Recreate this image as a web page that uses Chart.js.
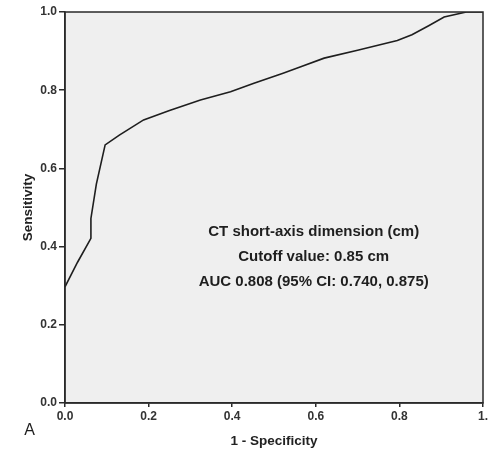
<!DOCTYPE html>
<html>
<head>
<meta charset="utf-8">
<script src="https://cdn.jsdelivr.net/npm/chart.js@4"></script>
<style>
  body { margin: 0; background: #fff; }
</style>
</head>
<body>
<canvas id="rocChart" width="491" height="455"></canvas>
<script>
// datos de la curva ROC (1 - especificidad, sensibilidad)
const fprValues = [0, 0.03, 0.062, 0.062, 0.075, 0.096, 0.13, 0.188, 0.25, 0.324, 0.396, 0.452, 0.52, 0.564, 0.62, 0.7, 0.795, 0.83, 0.87, 0.907, 0.96, 1.0];
const sensValues = [0.297, 0.36, 0.421, 0.472, 0.56, 0.66, 0.685, 0.724, 0.748, 0.775, 0.796, 0.818, 0.843, 0.86, 0.882, 0.902, 0.927, 0.942, 0.965, 0.987, 1.0, 1.0];

const xTickLabels = ['0.0', '0.2', '0.4', '0.6', '0.8', '1.'];
const yTickLabels = ['0.0', '0.2', '0.4', '0.6', '0.8', '1.0'];

const textoAnotacion = [
    'CT short-axis dimension (cm)',
    'Cutoff value: 0.85 cm',
    'AUC 0.808 (95% CI: 0.740, 0.875)'
];

const FUENTE = '"Liberation Sans", Arial, sans-serif';

const puntos = fprValues.map((x, i) => ({ x: x, y: sensValues[i] }));

// fondo gris y marco del area
const fondoPlugin = {
    id: 'fondo',
    beforeDraw(chart) {
        const { ctx, chartArea: a } = chart;
        ctx.save();
        ctx.fillStyle = '#efefef';
        ctx.fillRect(a.left, a.top, a.right - a.left, a.bottom - a.top);
        ctx.restore();
    },
    afterDraw(chart) {
        const { ctx, chartArea: a, scales } = chart;
        ctx.save();
        ctx.strokeStyle = '#2a2a2a';
        ctx.lineWidth = 1.5;
        ctx.strokeRect(a.left, a.top, a.right - a.left, a.bottom - a.top);

        // texto de la anotacion
        ctx.fillStyle = '#1e1e1e';
        ctx.font = 'bold 15px ' + FUENTE;
        ctx.textAlign = 'center';
        ctx.textBaseline = 'middle';
        const cx = scales.x.getPixelForValue(0.595);
        const ys = [0.438, 0.374, 0.310];
        textoAnotacion.forEach((t, i) => {
            ctx.fillText(t, cx, scales.y.getPixelForValue(ys[i]));
        });

        // letra del panel
        ctx.font = '16px ' + FUENTE;
        ctx.fillText('A', 29.5, 431);
        ctx.restore();
    }
};

const config = {
    type: 'scatter',
    data: {
        datasets: [{
            data: puntos,
            showLine: true,
            borderColor: '#1e1e1e',
            borderWidth: 1.6,
            pointRadius: 0,
            tension: 0
        }]
    },
    options: {
        responsive: false,
        animation: false,
        layout: { padding: { top: 12, right: 8, left: 0, bottom: 0 } },
        plugins: {
            legend: { display: false },
            tooltip: { enabled: false }
        },
        scales: {
            x: {
                type: 'linear',
                min: 0,
                max: 1,
                afterFit(scale) { scale.height = 52; },
                grid: { drawOnChartArea: false, color: '#2a2a2a', lineWidth: 1.5, tickLength: 4 },
                border: { color: '#2a2a2a', width: 1.5 },
                ticks: {
                    stepSize: 0.2,
                    padding: 2,
                    maxRotation: 0,
                    color: '#333',
                    font: { family: FUENTE, size: 12, weight: 'bold' },
                    callback: (v) => xTickLabels[Math.round(v * 5)]
                },
                title: {
                    display: true,
                    text: '1 - Specificity',
                    color: '#222',
                    font: { family: FUENTE, size: 13.5, weight: 'bold' },
                    padding: { top: 0, bottom: 6 }
                }
            },
            y: {
                min: 0,
                max: 1,
                afterFit(scale) { scale.width = 65; },
                grid: { drawOnChartArea: false, color: '#2a2a2a', lineWidth: 1.5, tickLength: 6 },
                border: { color: '#2a2a2a', width: 1.5 },
                ticks: {
                    stepSize: 0.2,
                    padding: 2,
                    color: '#333',
                    font: { family: FUENTE, size: 12, weight: 'bold' },
                    callback: (v) => yTickLabels[Math.round(v * 5)]
                },
                title: {
                    display: true,
                    text: 'Sensitivity',
                    color: '#222',
                    font: { family: FUENTE, size: 13.5, weight: 'bold' },
                    padding: { top: 20, bottom: 0 }
                }
            }
        }
    },
    plugins: [fondoPlugin]
};

const ctx = document.getElementById('rocChart').getContext('2d');
new Chart(ctx, config);
</script>
</body>
</html>
